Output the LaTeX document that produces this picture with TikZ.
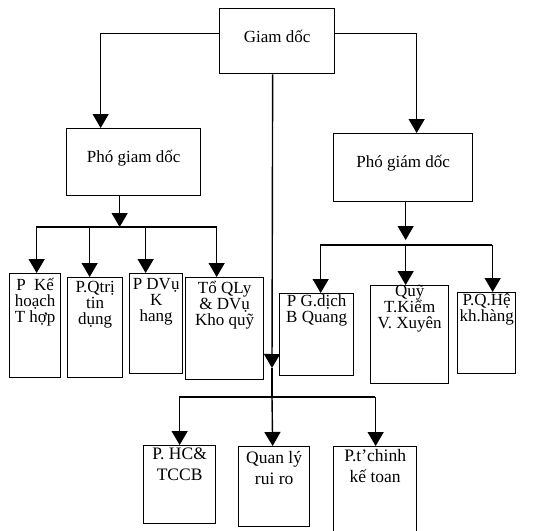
\documentclass[tikz,border=0pt]{standalone}
\usepackage{fontspec}
\setmainfont{Liberation Serif}
\usetikzlibrary{arrows.meta}
\begin{document}
\begin{tikzpicture}[x=1pt,y=-1pt,
  box/.style={draw, line width=1.3pt, anchor=north west, inner sep=0pt},
  lbl/.style={align=center, inner sep=0pt, anchor=north, font=\fontsize{17}{16}\selectfont},
  lblb/.style={lbl, font=\fontsize{17.5}{21}\selectfont},
  conn/.style={line width=1.4pt},
  arr/.style={line width=1.4pt, -{Triangle[width=16pt,length=14pt]}}]
\useasboundingbox (0,0) rectangle (535,530);
% top
\node[box, minimum width=115pt, minimum height=65pt] (GD) at (219,8) {};
\node[lbl] (tGD) at ([yshift=-22pt]GD.north) {Giam dốc};
% deputies
\node[box, minimum width=134pt, minimum height=67pt] (PGL) at (66,128) {};
\node[lbl] (tPGL) at ([yshift=-22pt]PGL.north) {Phó giam dốc};
\node[box, minimum width=139pt, minimum height=68pt] (PGR) at (333,133) {};
\node[lbl] (tPGR) at ([yshift=-22pt]PGR.north) {Phó giám dốc};
% left departments
\node[box, minimum width=51pt, minimum height=104pt] (L1) at (9,273) {};
\node[box, minimum width=55pt, minimum height=100pt] (L2) at (67,277) {};
\node[box, minimum width=53pt, minimum height=100pt] (L3) at (129,273) {};
\node[box, minimum width=78pt, minimum height=102pt] (L4) at (185,277) {};
\node[lbl] (tL1) at ([yshift=-5pt]L1.north) {P\ \ Kế\\hoạch\\T hợp};
\node[lbl] (tL2) at ([yshift=-4pt]L2.north) {P.Qtrị\\tin\\dụng};
\node[lbl] (tL3) at ([yshift=-5pt]L3.north) {P DVụ\\K\\hang};
\node[lbl] (tL4) at ([yshift=-4pt]L4.north) {Tổ QLy\\\& DVụ\\Kho quỹ};
% right departments
\node[box, minimum width=74pt, minimum height=82pt] (R1) at (279,293) {};
\node[box, minimum width=78pt, minimum height=98pt] (R2) at (370,285) {};
\node[box, minimum width=58pt, minimum height=81pt] (R3) at (457,292) {};
\node[lbl] (tR1) at ([yshift=-1pt]R1.north) {P G.dịch\\B Quang};
\node[lbl] (tR2) at ([yshift=0pt]R2.north) {Quỹ\\T.Kiểm\\V. Xuyên};
\node[lbl] (tR3) at ([yshift=-1pt]R3.north) {P.Q.Hệ\\kh.hàng};
% bottom departments
\node[box, minimum width=72pt, minimum height=78pt] (B1) at (143,445) {};
\node[box, minimum width=71pt, minimum height=80pt] (B2) at (238,446) {};
\node[box, minimum width=83pt, minimum height=86pt] (B3) at (333,446) {};
\node[lblb] (tB1) at ([yshift=-3pt]B1.north) {P. HC\&\\TCCB};
\node[lblb] (tB2) at ([yshift=-5pt]B2.north) {Quan lý\\rui ro};
\node[lblb] (tB3) at ([yshift=-3pt]B3.north) {P.t'chinh\\kế toan};
% junction coordinates
\coordinate (HL) at (36,227);
\coordinate (HLe) at (217,227);
\coordinate (HR) at (320,245);
\coordinate (HRe) at (492,245);
\coordinate (HB) at (179,397);
\coordinate (HBe) at (375,397);
\coordinate (M) at (272,368);
\coordinate (J) at (272,397);
% top connectors
\draw[arr] ([yshift=7.5pt]GD.west) -| ([xshift=-33pt]PGL.north);
\draw[arr] ([yshift=7.5pt]GD.east) -| ([xshift=13.5pt]PGR.north);
\draw[arr] ([xshift=-4.5pt]GD.south) -- (M);
\draw[conn] (M) -- (J);
% left subtree
\draw[arr] ([xshift=-14pt]PGL.south) -- ([xshift=-14pt]PGL.south |- HL);
\draw[conn] (HL) -- (HLe);
\draw[arr] ([xshift=1.5pt]L1.north |- HL) -- ([xshift=1.5pt]L1.north);
\draw[arr] ([xshift=-5.5pt]L2.north |- HL) -- ([xshift=-5.5pt]L2.north);
\draw[arr] ([xshift=-10.5pt]L3.north |- HL) -- ([xshift=-10.5pt]L3.north);
\draw[arr] ([xshift=-8pt]L4.north |- HL) -- ([xshift=-8pt]L4.north);
% right subtree
\draw[arr] ([xshift=2.5pt]PGR.south) -- ([xshift=2.5pt,yshift=5pt]PGR.south |- HR);
\draw[conn] (HR) -- (HRe);
\draw[arr] ([xshift=4pt]R1.north |- HR) -- ([xshift=4pt]R1.north);
\draw[arr] ([xshift=-4pt]R2.north |- HR) -- ([xshift=-4pt]R2.north);
\draw[arr] ([xshift=6pt]R3.north |- HR) -- ([xshift=6pt]R3.north);
% bottom subtree
\draw[conn] (HB) -- (HBe);
\draw[arr] (B1.north |- HB) -- (B1.north);
\draw[arr] (J) -- ([xshift=-1.5pt]B2.north);
\draw[arr] ([xshift=0.5pt]B3.north |- HB) -- ([xshift=0.5pt]B3.north);
\end{tikzpicture}
\end{document}
